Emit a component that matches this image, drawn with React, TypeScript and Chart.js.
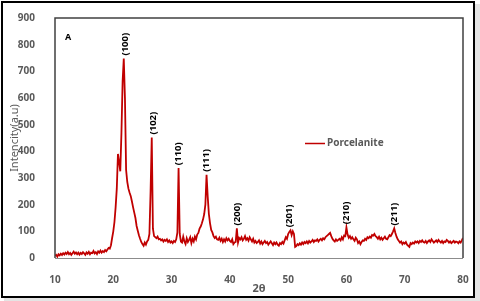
import React, { useEffect, useRef } from "react";
import { Chart, registerables } from "chart.js";

Chart.register(...registerables);

// Scan grid (2θ, degrees)
const twoThetaStart = 10;
const twoThetaStep = 0.2;

// Intensity (a.u), one row per degree: x.0, x.2, x.4, x.6, x.8
const intensity: number[] = [
  8, 12, 5, 14, 10,
  16, 11, 18, 13, 20,
  15, 22, 14, 19, 12,
  18, 24, 16, 21, 14,
  20, 13, 19, 15, 22,
  17, 12, 21, 16, 23,
  14, 20, 18, 26, 17,
  22, 15, 25, 20, 28,
  20, 26, 22, 30, 25,
  32, 38, 35, 48, 75,
  100, 135, 190, 260, 390,
  360, 325, 470, 662, 748,
  600, 330, 285, 260, 245,
  232, 212, 190, 170, 150,
  120, 102, 85, 72, 60,
  52, 46, 58, 50, 62,
  68, 90, 250, 452, 110,
  82, 78, 74, 80, 70,
  72, 66, 70, 62, 68,
  64, 70, 60, 66, 58,
  62, 56, 64, 60, 70,
  96, 337, 90, 62, 58,
  80, 62, 52, 74, 60,
  68, 78, 56, 72, 62,
  80, 70, 88, 94, 110,
  118, 130, 145, 165, 200,
  312, 230, 165, 130, 105,
  96, 82, 75, 80, 70,
  68, 76, 64, 72, 60,
  70, 62, 74, 66, 72,
  64, 60, 70, 52, 58,
  60, 111, 58, 75, 70,
  78, 66, 72, 82, 68,
  74, 65, 78, 70, 62,
  72, 58, 64, 56, 60,
  66, 54, 62, 52, 58,
  64, 56, 60, 50, 56,
  62, 55, 48, 58, 52,
  58, 50, 46, 56, 52,
  60, 54, 66, 78, 72,
  90, 98, 104, 86, 100,
  90, 42, 45, 52, 48,
  55, 50, 58, 52, 60,
  56, 62, 55, 64, 58,
  62, 68, 60, 66, 64,
  70, 62, 68, 72, 66,
  74, 70, 78, 82, 86,
  90, 94, 82, 72, 66,
  62, 70, 64, 68, 72,
  66, 78, 70, 84, 82,
  115, 88, 76, 82, 72,
  78, 70, 64, 76, 70,
  56, 62, 52, 60, 66,
  64, 72, 68, 78, 74,
  80, 76, 86, 84, 90,
  82, 78, 72, 80, 70,
  76, 68, 74, 80, 72,
  70, 78, 86, 82, 90,
  100, 111, 94, 80, 70,
  64, 58, 62, 52, 58,
  54, 60, 50, 46, 42,
  56, 52, 58, 54, 62,
  58, 62, 56, 64, 60,
  66, 60, 58, 64, 56,
  62, 66, 60, 70, 64,
  58, 62, 66, 60, 68,
  62, 58, 64, 56, 62,
  60, 68, 64, 58, 62,
  56, 60, 64, 58, 62,
  60, 55, 62, 58, 66,
  75,
];

const xTickValues = [10, 20, 30, 40, 50, 60, 70, 80];
const yTickValues = [0, 100, 200, 300, 400, 500, 600, 700, 800, 900];

const peakLabels = ["(100)", "(102)", "(110)", "(111)", "(200)", "(201)", "(210)", "(211)"];
const peakTwoTheta = [22.0, 26.8, 31.2, 36.0, 41.2, 50.2, 60.0, 68.2];
const peakIntensity = [748, 452, 337, 312, 111, 104, 115, 111];

const seriesName = "Porcelanite";
const panelLetter = "A";
const xTitle = "2θ";
const yTitle = "Intencity(a.u)";

const RED = "#C00000";
const GREY_TEXT = "#595959";
const FONT = "'Noto Sans', sans-serif";

export default function App() {
  const ref = useRef<HTMLCanvasElement | null>(null);

  useEffect(() => {
    document.body.style.margin = "0";
    const canvas = ref.current;
    if (!canvas) return;

    const points = intensity.map((v, i) => ({ x: twoThetaStart + i * twoThetaStep, y: v }));

    const decor = {
      id: "decor",
      beforeDraw(chart: any) {
        const { ctx, width, height } = chart;
        ctx.save();
        ctx.fillStyle = "#ffffff";
        ctx.fillRect(0, 0, width, height);
        ctx.restore();
      },
      afterDraw(chart: any) {
        const { ctx, chartArea: a, scales } = chart;
        const xs = scales.x;
        const ys = scales.y;
        ctx.save();
        // plot box
        ctx.strokeStyle = "#404040";
        ctx.lineWidth = 1.5;
        ctx.beginPath();
        ctx.moveTo(a.left, a.bottom);
        ctx.lineTo(a.left, a.top);
        ctx.lineTo(a.right, a.top);
        ctx.lineTo(a.right, a.bottom);
        ctx.stroke();
        ctx.strokeStyle = "#8c8c8c";
        ctx.lineWidth = 1;
        ctx.beginPath();
        ctx.moveTo(a.left, a.bottom + 0.5);
        ctx.lineTo(a.right, a.bottom + 0.5);
        ctx.stroke();

        // outer frame
        ctx.fillStyle = "#e4e4e4";
        ctx.fillRect(475, 4, 5, 297);
        ctx.fillRect(4, 298, 476, 3);
        ctx.strokeStyle = "#000000";
        ctx.lineWidth = 2;
        ctx.strokeRect(2, 2, 472, 295);

        // panel letter
        ctx.fillStyle = "#000000";
        ctx.font = `bold 9px ${FONT}`;
        ctx.textAlign = "center";
        ctx.textBaseline = "middle";
        ctx.fillText(panelLetter, 68, 37);

        // legend
        ctx.strokeStyle = RED;
        ctx.lineWidth = 1.5;
        ctx.beginPath();
        ctx.moveTo(305, 143.5);
        ctx.lineTo(325, 143.5);
        ctx.stroke();
        ctx.fillStyle = GREY_TEXT;
        ctx.font = `bold 10px ${FONT}`;
        ctx.textAlign = "left";
        ctx.textBaseline = "middle";
        ctx.fillText(seriesName, 327, 143.5);

        // peak labels
        ctx.fillStyle = "#000000";
        ctx.font = `bold 9.5px ${FONT}`;
        ctx.textAlign = "left";
        ctx.textBaseline = "middle";
        peakLabels.forEach((lab, i) => {
          const px = xs.getPixelForValue(peakTwoTheta[i]);
          const py = ys.getPixelForValue(peakIntensity[i]) - 3;
          ctx.save();
          ctx.translate(px, py);
          ctx.rotate(-Math.PI / 2);
          ctx.fillText(lab, 0, 0);
          ctx.restore();
        });
        ctx.restore();
      },
    };

    const chart = new Chart(canvas, {
      type: "line",
      data: {
        datasets: [
          {
            label: seriesName,
            data: points,
            borderColor: RED,
            backgroundColor: RED,
            borderWidth: 1.8,
            pointRadius: 0,
            tension: 0,
          },
        ],
      },
      options: {
        responsive: false,
        animation: false,
        layout: { padding: { top: 16, right: 17, left: 0, bottom: 0 } },
        plugins: {
          legend: { display: false },
          tooltip: { enabled: false },
        },
        scales: {
          x: {
            type: "linear",
            min: 10,
            max: 80,
            grid: { display: false },
            border: { display: false },
            afterBuildTicks: (s: any) => {
              s.ticks = xTickValues.map((v) => ({ value: v }));
            },
            afterFit: (s: any) => {
              s.height = 43;
            },
            ticks: {
              padding: 8,
              color: GREY_TEXT,
              font: { family: FONT, size: 10, weight: "bold" },
              maxRotation: 0,
            },
            title: {
              display: true,
              text: xTitle,
              color: GREY_TEXT,
              font: { family: FONT, size: 11, weight: "bold" },
              padding: { top: 0, bottom: 6 },
            },
          },
          y: {
            type: "linear",
            min: 0,
            max: 900,
            grid: { display: false },
            border: { display: false },
            afterBuildTicks: (s: any) => {
              s.ticks = yTickValues.map((v) => ({ value: v }));
            },
            afterFit: (s: any) => {
              s.width = 55;
            },
            ticks: {
              padding: 12,
              color: GREY_TEXT,
              font: { family: FONT, size: 10, weight: "bold" },
            },
            title: {
              display: true,
              text: yTitle,
              color: GREY_TEXT,
              font: { family: FONT, size: 11 },
              padding: { top: 8, bottom: 0 },
            },
          },
        },
      },
      plugins: [decor],
    } as any);

    return () => chart.destroy();
  }, []);

  return <canvas ref={ref} width={480} height={301} style={{ display: "block" }} />;
}
